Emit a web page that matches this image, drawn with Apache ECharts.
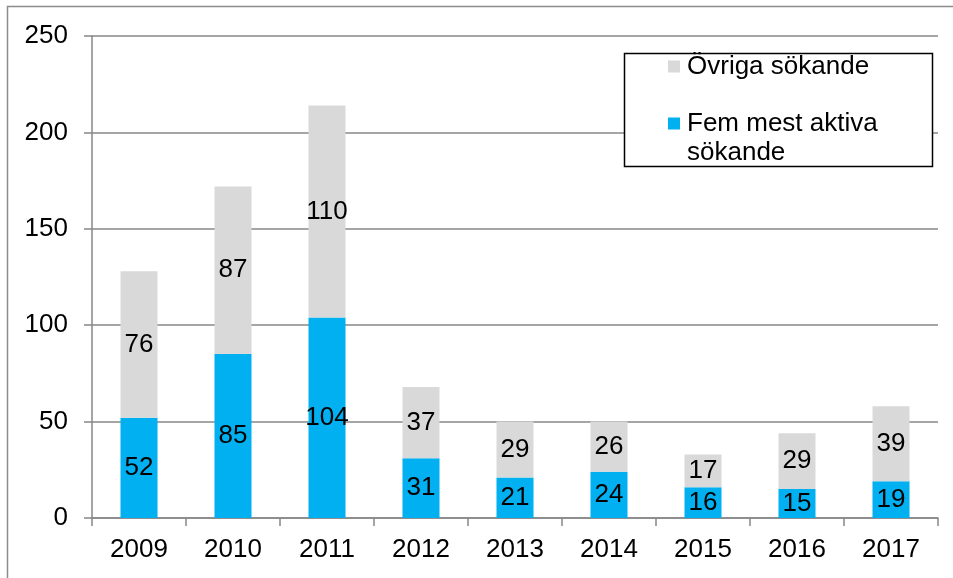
<!DOCTYPE html>
<html>
<head>
<meta charset="utf-8">
<script src="https://cdn.jsdelivr.net/npm/echarts@6/dist/echarts.min.js"></script>
<style>
  html, body { margin: 0; padding: 0; background: #fff; }
  #chart { width: 953px; height: 578px; }
</style>
</head>
<body>
<div id="chart"></div>
<script>
const years = ['2009', '2010', '2011', '2012', '2013', '2014', '2015', '2016', '2017']
const femMestAktiva = [52, 85, 104, 31, 21, 24, 16, 15, 19]
const ovrigaSokande = [76, 87, 110, 37, 29, 26, 17, 29, 39]

const chart = echarts.init(document.getElementById('chart'))

const labelStyle = {
  show: true,
  position: 'inside',
  color: '#000',
  fontSize: 26,
  fontFamily: 'Liberation Sans, Arial, sans-serif'
}

const option = {
  animation: false,
  textStyle: { fontFamily: 'Liberation Sans, Arial, sans-serif' },
  grid: { left: 92, right: 15, top: 36, bottom: 60 },
  graphic: [
    {
      type: 'rect',
      shape: { x: 7.5, y: 6.5, width: 960, height: 600 },
      style: { fill: 'none', stroke: '#8c8c8c', lineWidth: 1.5 },
      silent: true
    },
    {
      type: 'rect',
      shape: { x: 624.5, y: 53.5, width: 308, height: 113 },
      style: { fill: '#fff', stroke: '#000', lineWidth: 1.5 },
      z: 5,
      silent: true
    }
  ],
  legend: {
    orient: 'vertical',
    left: 668,
    top: 52,
    padding: 0,
    itemGap: -1,
    itemWidth: 12,
    itemHeight: 12,
    z: 10,
    icon: 'rect',
    data: ['Övriga sökande', 'Fem mest aktiva sökande'],
    formatter: function (name) {
      return name === 'Fem mest aktiva sökande' ? '\nFem mest aktiva\nsökande' : name
    },
    textStyle: { color: '#000', fontSize: 26, lineHeight: 29, padding: [0, 0, 0, 2] }
  },
  xAxis: {
    type: 'category',
    data: years,
    axisLine: { lineStyle: { color: '#878787', width: 1.5 } },
    axisTick: { show: true, length: 8, lineStyle: { color: '#878787', width: 1.5 } },
    axisLabel: { color: '#000', fontSize: 26, margin: 19 }
  },
  yAxis: {
    type: 'value',
    min: 0,
    max: 250,
    interval: 50,
    axisLine: { show: true, lineStyle: { color: '#878787', width: 1.5 } },
    axisTick: { show: true, length: 8, lineStyle: { color: '#878787', width: 1.5 } },
    splitLine: { lineStyle: { color: '#878787', width: 1.5 } },
    axisLabel: { color: '#000', fontSize: 26, margin: 24 }
  },
  series: [
    {
      name: 'Fem mest aktiva sökande',
      type: 'bar',
      stack: 'total',
      data: femMestAktiva,
      barWidth: 37,
      itemStyle: { color: '#00B0F0' },
      label: labelStyle
    },
    {
      name: 'Övriga sökande',
      type: 'bar',
      stack: 'total',
      data: ovrigaSokande,
      barWidth: 37,
      itemStyle: { color: '#D9D9D9' },
      label: labelStyle
    }
  ]
}

chart.setOption(option)
</script>
</body>
</html>
